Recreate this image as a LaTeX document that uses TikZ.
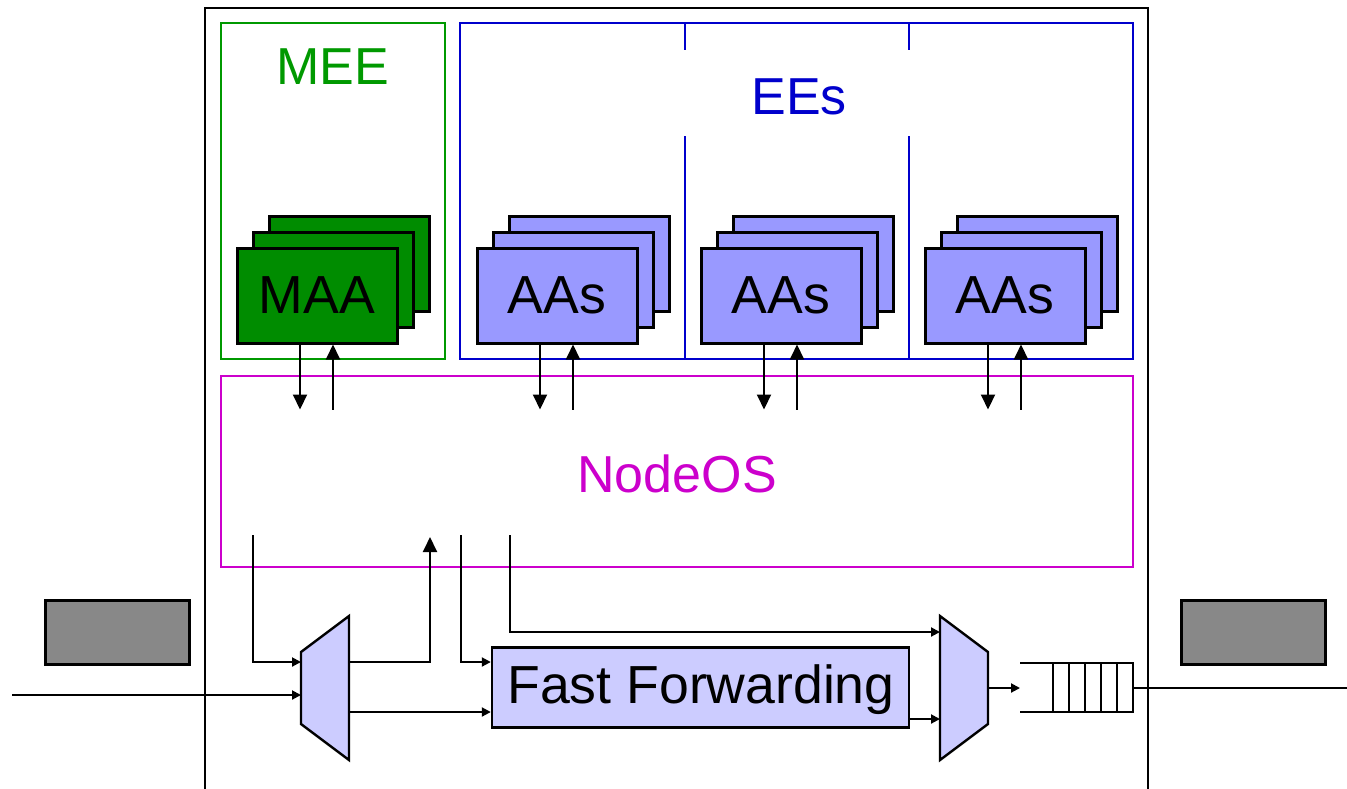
\documentclass[tikz,border=0pt]{standalone}
\usepackage{fontspec}
\setmainfont{Liberation Sans}
\usetikzlibrary{arrows.meta,calc}
\definecolor{meegreen}{RGB}{0,153,0}
\definecolor{maafill}{RGB}{0,140,0}
\definecolor{eeblue}{RGB}{0,0,204}
\definecolor{aafill}{RGB}{153,153,255}
\definecolor{osmag}{RGB}{204,0,204}
\definecolor{muxfill}{RGB}{204,204,255}
\definecolor{portgray}{RGB}{136,136,136}

\begin{document}
\begin{tikzpicture}[x=0.5pt,y=-0.5pt,
  frame/.style={draw,rectangle,inner sep=0pt,line width=1pt},
  card/.style={draw=black,line width=1.5pt,rectangle,inner sep=0pt,
               minimum width=80pt,minimum height=47.5pt},
  bigarrow/.style={-{Triangle[length=7.5pt,width=7pt]},line width=1pt},
  smallarrow/.style={-{Triangle[length=4.5pt,width=4.5pt]},line width=1pt},
  wire/.style={line width=1pt},
  muxshape/.style={draw=black,line width=1.2pt,fill=muxfill,line join=miter},
  labelfont/.style={font=\fontsize{26}{30}\selectfont},
  cardfont/.style={font=\fontsize{26.8}{30}\selectfont},
]
\useasboundingbox (0,0) rectangle (1347,788);

% outer node frame (open at the bottom)
\draw[wire] (205,790) -- (205,8) -- (1148,8) -- (1148,790);

% execution environments
\node[frame,draw=meegreen,minimum width=112pt,minimum height=168pt] (mee) at (333,191) {};
\node[labelfont,text=meegreen] (meelabel) at (333,67) {MEE};
\node[frame,draw=eeblue,minimum width=336.5pt,minimum height=168pt] (ees) at (796.5,191) {};
\node[labelfont,text=eeblue] (eeslabel) at (799,97) {EEs};
\foreach \dx in {685,909} {
  \draw[eeblue,line width=1pt] (\dx,23) -- (\dx,50);
  \draw[eeblue,line width=1pt] (\dx,136) -- (\dx,359);
}

% NodeOS
\node[frame,draw=osmag,minimum width=456pt,minimum height=95.5pt] (nodeos) at (677,471.5) {};
\node[labelfont,text=osmag] (oslabel) at (677,474) {NodeOS};

% stacks of active applications
\newcommand{\appstack}[4]{%
  \node[card,fill=#4] (#1c) at (#2+32,263.5) {};
  \node[card,fill=#4] (#1b) at (#2+16,279.5) {};
  \node[card,fill=#4,cardfont] (#1) at (#2,295.5) {#3};
  \draw[bigarrow] ([xshift=-8.5pt]#1.south) -- ++(0,65);
  \draw[bigarrow] ([xshift=8pt,yshift=-32.5pt]#1.south) -- ([xshift=8pt]#1.south);
}
\appstack{maa}{317}{MAA}{maafill}
\appstack{aaone}{557}{AAs}{aafill}
\appstack{aatwo}{781}{AAs}{aafill}
\appstack{aathree}{1005}{AAs}{aafill}

% link ports
\node[frame,line width=1.5pt,fill=portgray,minimum width=72pt,minimum height=32pt] (inport) at (117,632) {};
\node[frame,line width=1.5pt,fill=portgray,minimum width=72pt,minimum height=32pt] (outport) at (1253,632) {};

% demultiplexer and multiplexer
\draw[muxshape] (301,652) -- (349,616) -- (349,760) -- (301,724) -- cycle;
\coordinate (demuxinA) at (301,662);
\coordinate (demuxinB) at (301,695);
\coordinate (demuxoutA) at (349,662);
\coordinate (demuxoutB) at (349,712);
\draw[muxshape] (940,616) -- (988,652) -- (988,724) -- (940,760) -- cycle;
\coordinate (muxinA) at (940,632);
\coordinate (muxinB) at (940,719);
\coordinate (muxout) at (988,688);

% fast forwarding path
\node[frame,line width=1.2pt,fill=muxfill,minimum width=208.5pt,minimum height=40pt] (ff) at (700.5,687.5) {};
\node[font=\fontsize{26.8}{30}\selectfont] (fflabel) at (701,690) {Fast Forwarding};

% output queue
\coordinate (qin) at (1020,688);
\draw[wire] (1020,663) -- (1133,663) -- (1133,712) -- (1020,712);
\foreach \qx in {1053,1069,1085,1101,1117}
  \draw[wire] (\qx,663) -- (\qx,712);
\coordinate (qout) at (1133,688);

% connectors
\coordinate (inlink) at (12,695);
\coordinate (osA) at (253,535);
\coordinate (osB) at (430,537);
\coordinate (osC) at (461,535);
\coordinate (osD) at (510,535);
\coordinate (outlink) at (1356,688);

\draw[smallarrow] (inlink) -- (demuxinB);
\draw[smallarrow] (osA) |- (demuxinA);
\draw[bigarrow] (demuxoutA) -| (osB);
\draw[smallarrow] (osC) |- ($(ff.west)+(0,-25.5)$);
\draw[smallarrow] (demuxoutB) -- (demuxoutB -| ff.west);
\draw[smallarrow] (osD) |- (muxinA);
\draw[smallarrow] (ff.east |- muxinB) -- (muxinB);
\draw[smallarrow] (muxout) -- (qin);
\draw[smallarrow] (qout) -- (outlink);
\end{tikzpicture}
\end{document}
